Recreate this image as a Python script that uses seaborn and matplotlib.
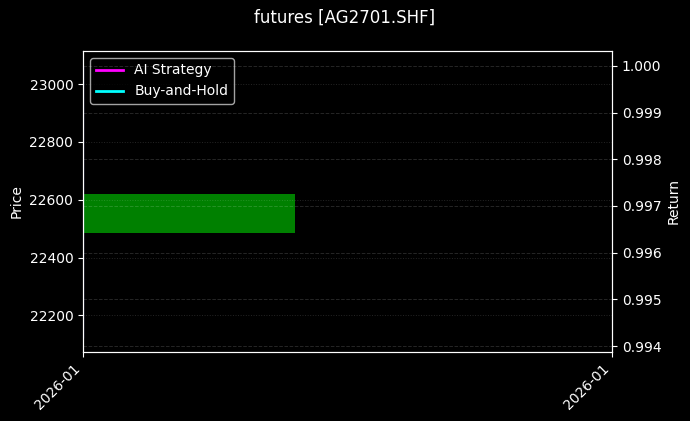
import pandas as pd
import matplotlib
matplotlib.use("Agg")
import matplotlib.pyplot as plt
import matplotlib.dates as mdates
import seaborn as sns

# data
dates = pd.to_datetime(["2026-01-05", "2026-01-05"])
open_price = [22486]
close_price = [22620]
ai_return = [1.0, 0.99417]
bh_return = [1.0, 0.99417]

plt.style.use("dark_background")

fig = plt.figure(figsize=(6.9, 4.21), dpi=100)
ax = fig.add_axes([0.1203, 0.1646, 0.7667, 0.7143])
ax2 = ax.twinx()

# candle body
d0 = mdates.date2num(dates[0])
ax.bar(d0, close_price[0] - open_price[0], bottom=open_price[0],
       width=0.8, color="green", linewidth=0)

df = pd.DataFrame({"date": dates, "ai": ai_return, "bh": bh_return})
sns.lineplot(data=df, x="date", y="ai", ax=ax2, color="magenta",
             linewidth=2, label="AI Strategy", legend=False)
sns.lineplot(data=df, x="date", y="bh", ax=ax2, color="cyan",
             linewidth=2, label="Buy-and-Hold", legend=False)

ax.set_xlim(d0, d0 + 1)
ax.set_ylim(22074, 23115)
ax2.set_ylim(0.993878, 1.000321)
ax.set_xticks([d0, d0 + 1])
ax.xaxis.set_major_formatter(mdates.DateFormatter("%Y-%m"))
plt.setp(ax.get_xticklabels(), rotation=45, ha="right")

ax.set_ylabel("Price")
ax2.set_ylabel("Return")
ax.set_xlabel("")
ax2.set_xlabel("")
ax.grid(True, linestyle=":", alpha=0.15, linewidth=0.7)
ax2.grid(True, linestyle="--", alpha=0.15, linewidth=0.7)

h, l = ax2.get_legend_handles_labels()
ax.legend(h, l, loc="upper left")

fig.suptitle("futures [AG2701.SHF]", fontsize=12, y=0.98)
fig.savefig("out.png", dpi=100)
